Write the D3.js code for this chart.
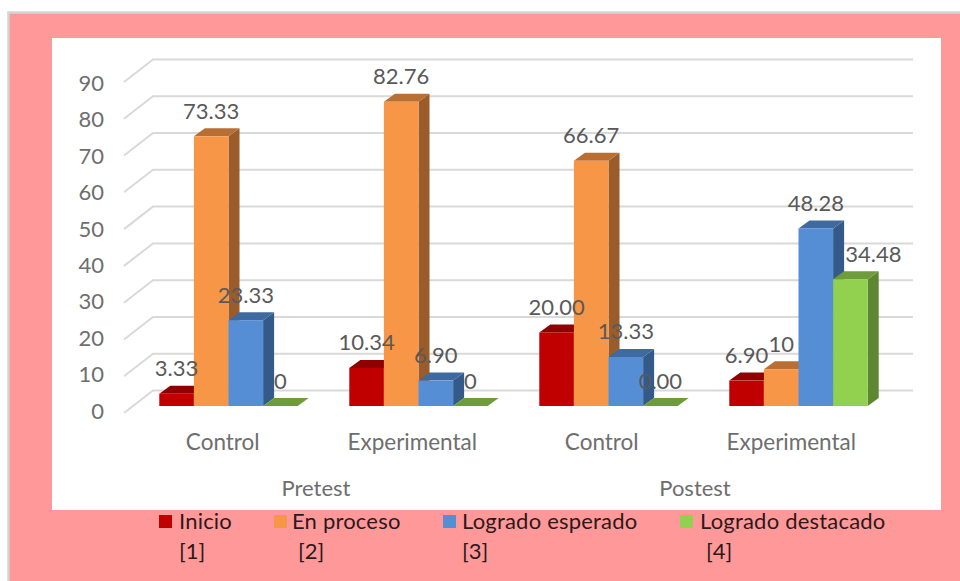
<!DOCTYPE html>
<html>
<head>
<meta charset="utf-8">
<script src="https://cdn.jsdelivr.net/npm/d3@7"></script>
<style>
  html, body { margin: 0; padding: 0; background: #fff; }
  svg { display: block; }
  text { font-family: Lato, "Open Sans", sans-serif; }
</style>
</head>
<body>
<div id="chart"></div>
<script>
// Chart data
const groups = ["Pretest", "Postest"];
const categories = ["Control", "Experimental", "Control", "Experimental"];
const seriesNames = ["Inicio", "En proceso", "Logrado esperado", "Logrado destacado"];
const seriesCodes = ["[1]", "[2]", "[3]", "[4]"];
const inicio = [3.33, 10.34, 20, 6.9];
const enProceso = [73.33, 82.76, 66.67, 10];
const logradoEsperado = [23.33, 6.9, 13.33, 48.28];
const logradoDestacado = [0, 0, 0, 34.48];
const inicioLabels = ["3.33", "10.34", "20.00", "6.90"];
const enProcesoLabels = ["73.33", "82.76", "66.67", "10"];
const esperadoLabels = ["23.33", "6.90", "13.33", "48.28"];
const destacadoLabels = ["0", "0", "0.00", "34.48"];
const yTicks = [0, 10, 20, 30, 40, 50, 60, 70, 80, 90];

const width = 960;
const height = 581;

const allValues = [inicio, enProceso, logradoEsperado, logradoDestacado];
const allLabels = [inicioLabels, enProcesoLabels, esperadoLabels, destacadoLabels];

// Front, top and side colours per series
const colors = [
    { front: "#c00000", top: "#8f0000", side: "#8f0000" },
    { front: "#f79646", top: "#b96f34", side: "#9a5c2a" },
    { front: "#558ed5", top: "#3f6aa0", side: "#345a8a" },
    { front: "#92d050", top: "#6e9c3c", side: "#5f8732" }
];

// Depth of the bars and of the back wall
const barDx = 11, barDy = -8;
const wallFront = { dx: -9.5, dy: 7 };
const wallBack = { dx: 19.5, dy: -15.5 };

const svg = d3.select("#chart").append("svg")
    .attr("width", width)
    .attr("height", height);

// Page background and plot panel
svg.append("rect").attr("x", 8.5).attr("y", 12.5).attr("width", 960).attr("height", 580)
    .attr("fill", "#ff9999").attr("stroke", "#d4d4d4").attr("stroke-width", 2.5);
svg.append("rect").attr("x", 52).attr("y", 38).attr("width", 889).attr("height", 472)
    .attr("fill", "#ffffff");

// Scales
const x0 = d3.scaleBand().domain(d3.range(categories.length)).range([133.5, 893.5]);
const x1 = d3.scaleBand().domain(d3.range(seriesNames.length))
    .range([0, x0.bandwidth()]).paddingInner(0).paddingOuter(0.745);
const y = d3.scaleLinear().domain([0, 90]).range([406, 75]);
// Axis labels sit a little tighter than the bars in the original
const yLabel = d3.scaleLinear().domain([0, 90]).range([405, 77.5]);
const xLabel = d3.scaleBand().domain(d3.range(categories.length)).range([128, 886]);

// Gridlines on the back and left walls
const grid = svg.append("g");
yTicks.forEach(function (t) {
    grid.append("path")
        .attr("d", d3.line()([
            [x0.range()[0] + wallFront.dx, y(t) + wallFront.dy],
            [x0.range()[0] + wallBack.dx, y(t) + wallBack.dy],
            [x0.range()[1] + wallBack.dx, y(t) + wallBack.dy]
        ]))
        .attr("fill", "none")
        .attr("stroke", "#d9d9d9")
        .attr("stroke-width", 2);
});

// Y axis
const yAxis = svg.append("g")
    .attr("transform", "translate(110,6)")
    .call(d3.axisLeft(yLabel).tickValues(yTicks).tickSize(0).tickPadding(6));
yAxis.select(".domain").remove();
yAxis.selectAll("text").attr("font-size", 22).attr("fill", "#6e6e6e").style("font-family", "Lato");

// Category axis
const xAxis = svg.append("g")
    .attr("transform", "translate(0,431)")
    .call(d3.axisBottom(xLabel).tickSize(0).tickFormat(i => categories[i]));
xAxis.select(".domain").remove();
xAxis.selectAll("text").attr("font-size", 22.5).attr("fill", "#6e6e6e").style("font-family", "Lato");

// Group labels under each pair of categories
svg.selectAll(".group-label")
    .data(groups)
    .enter().append("text")
    .attr("class", "group-label")
    .attr("x", (d, i) => (xLabel(i * 2) + xLabel(i * 2 + 1) + xLabel.bandwidth()) / 2 - 1.5)
    .attr("y", 496)
    .attr("text-anchor", "middle")
    .attr("font-size", 22)
    .attr("fill", "#6e6e6e")
    .text(d => d);

// 3D bars, drawn left to right so later bars cover earlier sides
const bars = svg.append("g");
categories.forEach(function (c, i) {
    allValues.forEach(function (vals, s) {
        const left = x0(i) + x1(s);
        const right = left + x1.bandwidth();
        const top = y(vals[i]);
        const base = y(0);
        const col = colors[s];
        bars.append("path")
            .attr("d", d3.line()([[right, base], [right + barDx, base + barDy], [right + barDx, top + barDy], [right, top]]) + "Z")
            .attr("fill", col.side);
        bars.append("path")
            .attr("d", d3.line()([[left, top], [left + barDx, top + barDy], [right + barDx, top + barDy], [right, top]]) + "Z")
            .attr("fill", col.top);
        bars.append("rect")
            .attr("x", left)
            .attr("y", top)
            .attr("width", x1.bandwidth())
            .attr("height", base - top)
            .attr("fill", col.front);
    });
});

// Data labels, the crowded one moved sideways like in the original
const labelShift = { "3-3": 23 };
const labels = svg.append("g");
categories.forEach(function (c, i) {
    allValues.forEach(function (vals, s) {
        labels.append("text")
            .attr("x", x0(i) + x1(s) + x1.bandwidth() / 2 + (labelShift[i + "-" + s] || 0))
            .attr("y", y(vals[i]) - 17.5)
            .attr("text-anchor", "middle")
            .attr("font-size", 22)
            .attr("fill", "#595959")
            .text(allLabels[s][i]);
    });
});

// Legend
const legendSwatchX = [159, 274, 443, 680];
const legendTextX = [179, 292, 462, 700];
const legendCodeX = [179, 298, 462, 706];
const legend = svg.append("g");
seriesNames.forEach(function (name, s) {
    legend.append("rect")
        .attr("x", legendSwatchX[s]).attr("y", 515)
        .attr("width", 13).attr("height", 13)
        .attr("fill", colors[s].front);
    legend.append("text")
        .attr("x", legendTextX[s]).attr("y", 529)
        .attr("font-size", 22).attr("letter-spacing", 0.2).attr("fill", "#2b1a1c")
        .text(name);
    legend.append("text")
        .attr("x", legendCodeX[s]).attr("y", 559)
        .attr("font-size", 22).attr("fill", "#2b1a1c")
        .text(seriesCodes[s]);
});
</script>
</body>
</html>
